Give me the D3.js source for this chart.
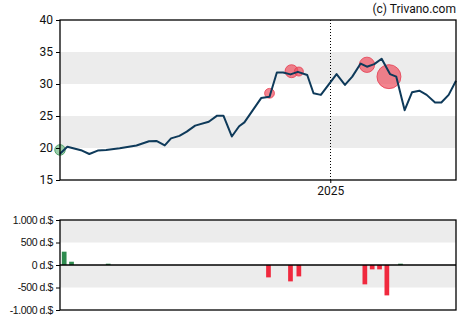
<!DOCTYPE html>
<html>
<head>
<meta charset="utf-8">
<script src="https://cdn.jsdelivr.net/npm/d3@7"></script>
<style>
  html, body { margin: 0; padding: 0; background: #fff; }
  svg { display: block; font-family: "Liberation Sans", Arial, sans-serif; }
</style>
</head>
<body>
<svg id="chart" width="470" height="325"></svg>
<script>
// Share price (weekly closes)
const priceDates = ["2024-04-18","2024-04-25","2024-05-09","2024-05-16","2024-05-24","2024-06-01","2024-06-14","2024-06-30","2024-07-12","2024-07-19","2024-07-27","2024-08-02","2024-08-10","2024-08-17","2024-08-25","2024-09-07","2024-09-15","2024-09-21","2024-09-29","2024-10-06","2024-10-11","2024-10-27","2024-11-04","2024-11-11","2024-11-17","2024-11-24","2024-12-01","2024-12-10","2024-12-16","2024-12-23","2025-01-07","2025-01-15","2025-01-22","2025-01-30","2025-02-05","2025-02-12","2025-02-19","2025-02-27","2025-03-05","2025-03-13","2025-03-20","2025-03-27","2025-04-03","2025-04-11","2025-04-17","2025-04-24","2025-05-01"];
const priceValues = [19.1,20.2,19.6,19.06,19.6,19.7,19.95,20.4,21.05,21.1,20.4,21.5,21.9,22.55,23.5,24.1,25.05,25.05,21.8,23.4,24.0,27.8,28.0,31.8,31.8,31.5,31.9,31.4,28.55,28.3,31.55,29.85,31.15,33.2,32.7,33.1,33.95,31.55,31.15,25.9,28.7,28.95,28.3,27.1,27.1,28.3,30.5];

// Insider transactions (thousand $; positive = buy, negative = sell)
const tradeDates = ["2024-04-22","2024-04-29","2024-06-03","2024-11-03","2024-11-24","2024-12-02","2025-02-03","2025-02-10","2025-02-17","2025-02-24","2025-03-09"];
const tradeAmounts = [296,73,29,-275,-364,-253,-430,-97,-97,-675,29];

// Markers on the price line for notable transactions
const markerDates = ["2024-04-18","2024-11-04","2024-11-25","2024-12-02","2025-02-05","2025-02-26"];
const markerPrices = [19.7,28.55,32.0,31.95,33.0,31.15];
const markerAmounts = [296,-275,-364,-253,-430,-675];

const priceTicks = [15,20,25,30,35,40];
const tradeTicks = [-1000,-500,0,500,1000];
const tradeTickLabels = ["-1.000 d.$","-500 d.$","0 d.$","500 d.$","1.000 d.$"];
const yearMark = "2025-01-01";

const parse = d3.utcParse("%Y-%m-%d");
const svg = d3.select("#chart");

const left = 60, right = 456;
const top1 = 20, bottom1 = 180;
const top2 = 220, bottom2 = 310;

const x = d3.scaleUtc()
  .domain([parse("2024-04-18"), parse("2025-05-01")])
  .range([left, right]);
const y = d3.scaleLinear().domain([15, 40]).range([bottom1, top1]);
const y2 = d3.scaleLinear().domain([-1000, 1000]).range([bottom2, top2]);
const r = d3.scaleLinear().domain([0, 675]).range([0, 12]);

// Alternating background bands
const g1 = svg.append("g");
[[20,25],[30,35]].forEach(([a,b]) => {
  g1.append("rect").attr("x", left).attr("width", right - left)
    .attr("y", y(b)).attr("height", y(a) - y(b)).attr("fill", "#ececec");
});
const g2 = svg.append("g");
[[500,1000],[-500,0]].forEach(([a,b]) => {
  g2.append("rect").attr("x", left).attr("width", right - left)
    .attr("y", y2(b)).attr("height", y2(a) - y2(b)).attr("fill", "#ececec");
});

// Year separator
const xm = Math.round(x(parse(yearMark))) + 0.5;
svg.append("line").attr("x1", xm).attr("x2", xm).attr("y1", top1).attr("y2", bottom1)
  .attr("stroke", "#000").attr("stroke-width", 1).attr("stroke-dasharray", "1,2");

// Transaction markers (under the line)
const markers = markerDates.map((d, i) => ({ d: parse(d), p: markerPrices[i], a: markerAmounts[i] }));
svg.append("g").selectAll("circle").data(markers).join("circle")
  .attr("cx", d => x(d.d)).attr("cy", d => y(d.p)).attr("r", d => r(Math.abs(d.a)))
  .attr("fill", d => d.a > 0 ? "rgba(120,190,140,0.75)" : "rgba(238,80,95,0.7)")
  .attr("stroke", d => d.a > 0 ? "rgba(60,150,90,0.8)" : "rgba(230,60,80,0.8)")
  .attr("stroke-width", 1);

// Price line
const pts = priceDates.map((d, i) => ({ d: parse(d), v: priceValues[i] }));
svg.append("path").datum(pts)
  .attr("fill", "none").attr("stroke", "#0e3a5a").attr("stroke-width", 2)
  .attr("stroke-linejoin", "round")
  .attr("d", d3.line().x(d => x(d.d)).y(d => y(d.v)));

// Transaction bars
const trades = tradeDates.map((d, i) => ({ d: parse(d), a: tradeAmounts[i] }));
const bw = 4.7;
svg.append("g").selectAll("rect").data(trades).join("rect")
  .attr("x", d => x(d.d) - bw / 2).attr("width", bw)
  .attr("y", d => y2(Math.max(0, d.a)))
  .attr("height", d => Math.abs(y2(d.a) - y2(0)))
  .attr("fill", d => d.a > 0 ? "#2e8b4e" : "#f0293e");

// Zero line
svg.append("line").attr("x1", left).attr("x2", right).attr("y1", y2(0)).attr("y2", y2(0))
  .attr("stroke", "#000").attr("stroke-width", 1.3);

// Frames
[[top1, bottom1],[top2, bottom2]].forEach(([t, b]) => {
  svg.append("rect").attr("x", left).attr("y", t).attr("width", right - left).attr("height", b - t)
    .attr("fill", "none").attr("stroke", "#000").attr("stroke-width", 1.3);
});

// Axes
const ax1 = svg.append("g").attr("transform", `translate(${left},0)`)
  .call(d3.axisLeft(y).tickValues(priceTicks).tickSize(4).tickPadding(3).tickFormat(d3.format("d")));
ax1.select(".domain").remove();
ax1.selectAll("text").attr("font-size", 12).attr("fill", "#111")
  .attr("font-family", "Roboto, 'Liberation Sans', sans-serif");
ax1.selectAll("line").attr("stroke", "#000");

const ax2 = svg.append("g").attr("transform", `translate(${left},0)`)
  .call(d3.axisLeft(y2).tickValues(tradeTicks).tickSize(4).tickPadding(3)
    .tickFormat((d, i) => tradeTickLabels[i]));
ax2.select(".domain").remove();
ax2.selectAll("text").attr("font-size", 10.5).attr("fill", "#111").attr("letter-spacing", "-0.4");
ax2.selectAll("line").attr("stroke", "#000");

const axx = svg.append("g").attr("transform", `translate(0,${bottom1})`)
  .call(d3.axisBottom(x).tickValues([parse(yearMark)]).tickSize(3).tickPadding(3)
    .tickFormat(d3.utcFormat("%Y")));
axx.select(".domain").remove();
axx.selectAll("text").attr("font-size", 12).attr("fill", "#111")
  .attr("font-family", "Roboto, 'Liberation Sans', sans-serif");

// Credit
svg.append("text").attr("x", right).attr("y", 13).attr("text-anchor", "end")
  .attr("font-size", 12).attr("font-family", "Roboto, 'Liberation Sans', sans-serif")
  .attr("fill", "#111").text("(c) Trivano.com");
</script>
</body>
</html>
